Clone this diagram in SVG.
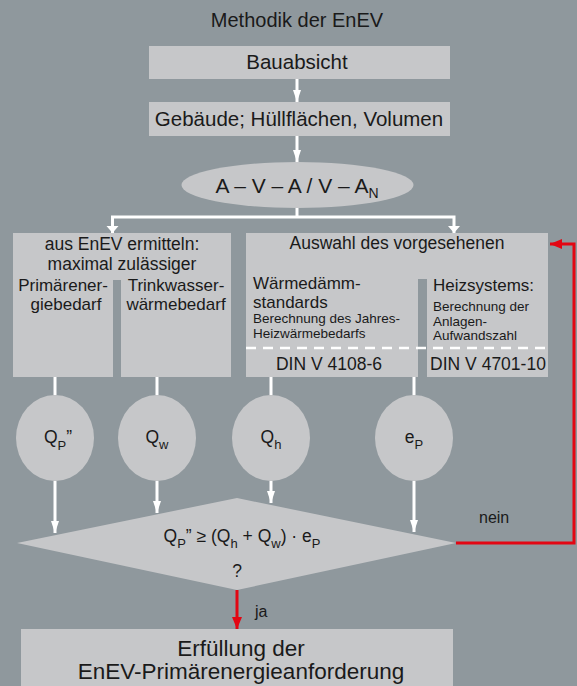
<svg xmlns="http://www.w3.org/2000/svg" width="577" height="686" viewBox="0 0 577 686">
<defs>
<style>
text{font-family:"Liberation Sans",Arial,sans-serif;fill:#1a1a1a}
.box{fill:#c6c7c9}
.wl{stroke:#fff;stroke-width:3;fill:none}
.rl{stroke:#e30613;stroke-width:3;fill:none}
.t20{font-size:20.5px}
.t17{font-size:17.5px}
.t16{font-size:17px}
.t15{font-size:16px}
.t12{font-size:13.5px}
.m{text-anchor:middle}
.dash{stroke:#fff;stroke-width:2.5;stroke-dasharray:10 7}
</style>
<marker id="aw" viewBox="0 0 12 8" refX="12" refY="4" markerWidth="12" markerHeight="8" markerUnits="userSpaceOnUse" orient="auto"><path d="M0,0 L12,4 L0,8 Z" fill="#fff"/></marker>
<marker id="ar" viewBox="0 0 12 10" refX="12" refY="5" markerWidth="12" markerHeight="10" markerUnits="userSpaceOnUse" orient="auto"><path d="M0,0 L12,5 L0,10 Z" fill="#e30613"/></marker>
</defs>
<rect width="577" height="686" fill="#8f989d"/>
<text x="297" y="27" class="m" style="font-size:20px">Methodik der EnEV</text>
<g id="n-bauabsicht"><rect class="box" x="149" y="46" width="301" height="33"/><text x="297" y="69" class="m t20">Bauabsicht</text></g>
<g id="n-gebaeude"><rect class="box" x="149" y="102" width="301" height="34"/><text x="299" y="126" class="m t20">Gebäude; Hüllflächen, Volumen</text></g>
<g id="n-avan"><ellipse class="box" cx="297.5" cy="185" rx="116" ry="23"/><text x="297" y="193" class="m" style="font-size:21px">A – V – A / V – A<tspan dy="5" style="font-size:14px">N</tspan></text></g>
<g id="n-enev"><path class="box" d="M13,233 H231 V377 H121 V280 H113 V377 H13 Z"/>
<text x="122" y="250" class="m t17">aus EnEV ermitteln:</text>
<text x="122" y="270" class="m t17">maximal zulässiger</text>
<text x="63" y="291" class="m t16">Primärener-</text>
<text x="66" y="310" class="m t16">giebedarf</text>
<text x="176" y="291" class="m t16">Trinkwasser-</text>
<text x="176" y="310" class="m t16">wärmebedarf</text></g>
<g id="n-auswahl"><path class="box" d="M246,233 H548 V377 H427 V279 H418 V377 H246 Z"/>
<line class="dash" x1="246" y1="348" x2="548" y2="348"/>
<text x="397" y="249" class="m t17">Auswahl des vorgesehenen</text>
<text x="253" y="289" class="t16">Wärmedämm-</text>
<text x="253" y="308" class="t16">standards</text>
<text x="253" y="323" class="t12">Berechnung des Jahres-</text>
<text x="253" y="338" class="t12">Heizwärmebedarfs</text>
<text x="433" y="291" class="t16">Heizsystems:</text>
<text x="433" y="311" class="t12">Berechnung der</text>
<text x="433" y="326" class="t12">Anlagen-</text>
<text x="433" y="340" class="t12">Aufwandszahl</text>
<text x="329" y="370" class="m t17">DIN V 4108-6</text>
<text x="488" y="370" class="m t17">DIN V 4701-10</text></g>
<g id="n-qp"><ellipse class="box" cx="55" cy="438" rx="39" ry="43"/><text x="58" y="443" class="m t17">Q<tspan dy="7" style="font-size:13px">P</tspan><tspan dy="-7">”</tspan></text></g>
<g id="n-qw"><ellipse class="box" cx="157" cy="438" rx="39" ry="43"/><text x="157" y="443" class="m t17">Q<tspan dy="6" style="font-size:13px">w</tspan></text></g>
<g id="n-qh"><ellipse class="box" cx="271" cy="438" rx="39" ry="43"/><text x="271" y="443" class="m t17">Q<tspan dy="6" style="font-size:13px">h</tspan></text></g>
<g id="n-ep"><ellipse class="box" cx="414" cy="438" rx="39" ry="43"/><text x="414" y="443" class="m t17">e<tspan dy="6" style="font-size:13px">P</tspan></text></g>
<g id="n-check"><polygon class="box" points="17,543 237,498 456,543 237,590"/>
<text x="242" y="542" class="m t17">Q<tspan dy="6" style="font-size:13px">P</tspan><tspan dy="-6">”  ≥ (Q</tspan><tspan dy="6" style="font-size:13px">h</tspan><tspan dy="-6"> + Q</tspan><tspan dy="6" style="font-size:13px">w</tspan><tspan dy="-6">) · e</tspan><tspan dy="6" style="font-size:13px">P</tspan></text>
<text x="237" y="577" class="m t17">?</text></g>
<g id="n-result"><rect class="box" x="21" y="629" width="432" height="57"/>
<text x="241" y="656" class="m" style="font-size:22.5px">Erfüllung der</text>
<text x="241" y="679" class="m" style="font-size:22.5px">EnEV-Primärenergieanforderung</text></g>
<g id="connectors">
<line class="wl" x1="297" y1="79" x2="297" y2="102" marker-end="url(#aw)"/>
<line class="wl" x1="297" y1="136" x2="297" y2="162" marker-end="url(#aw)"/>
<line class="wl" x1="297" y1="208" x2="297" y2="217"/>
<path class="wl" d="M112.5,233 V217 H454 V233"/>
<path d="M106.5,226 L118.5,226 L112.5,233 Z M448,226 L460,226 L454,233 Z" fill="#fff"/>
<line class="wl" x1="55" y1="377" x2="55" y2="395"/>
<line class="wl" x1="157" y1="377" x2="157" y2="395"/>
<line class="wl" x1="271" y1="377" x2="271" y2="395"/>
<line class="wl" x1="414" y1="377" x2="414" y2="395"/>
<line class="wl" x1="55" y1="481" x2="55" y2="533" marker-end="url(#aw)"/>
<line class="wl" x1="157" y1="481" x2="157" y2="513" marker-end="url(#aw)"/>
<line class="wl" x1="271" y1="481" x2="271" y2="503" marker-end="url(#aw)"/>
<line class="wl" x1="414" y1="481" x2="414" y2="532" marker-end="url(#aw)"/>
<line class="rl" x1="237" y1="590" x2="237" y2="629" marker-end="url(#ar)"/>
<path class="rl" d="M456,543 H574 V244 H550" marker-end="url(#ar)"/>
<text x="255" y="617" class="t15">ja</text>
<text x="479" y="523" class="t15">nein</text>
</g>
</svg>
